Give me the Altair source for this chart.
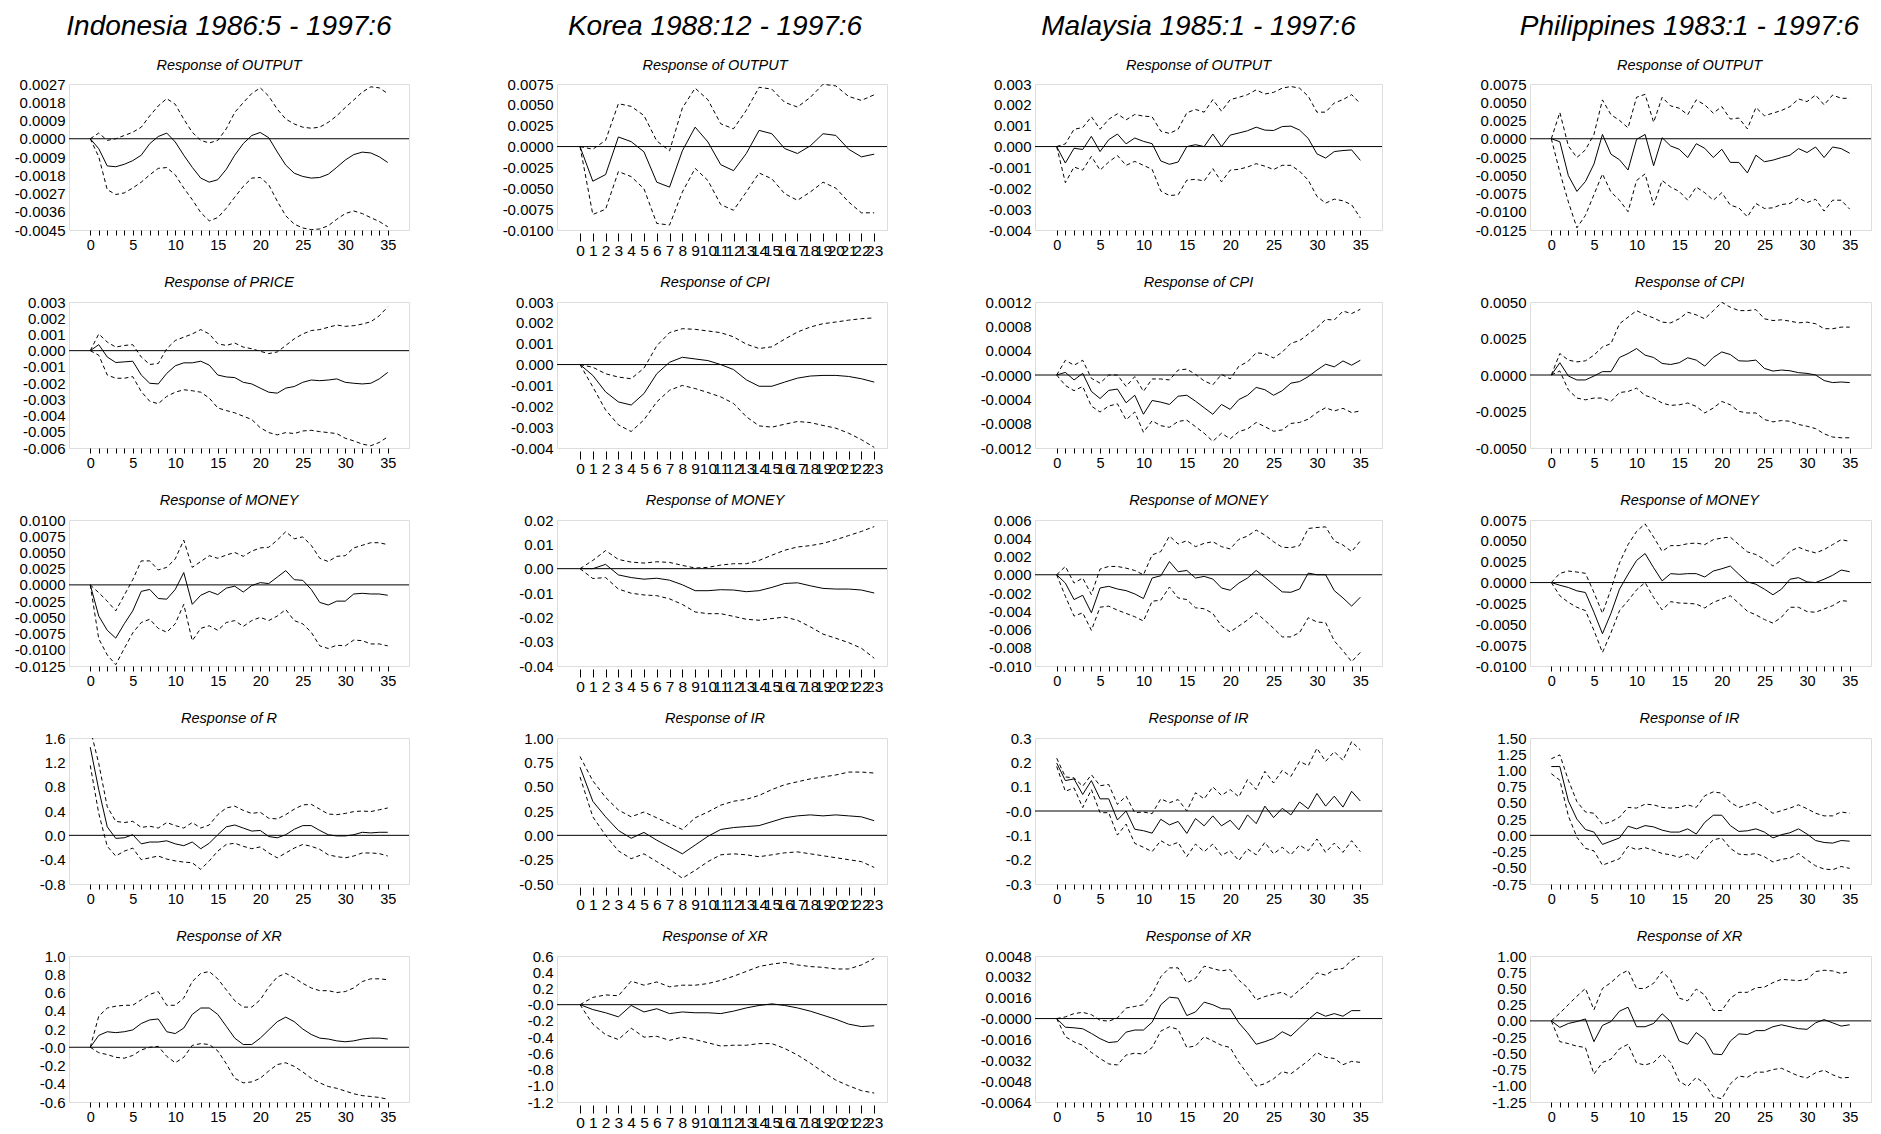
import altair as alt
import pandas as pd

# ---------------- data ----------------
# Indonesia, values in units of SCALE given in PANELS
IDN_OUTPUT_IRF = [0, -4.9, -13.4, -13.8, -12.6, -10.8, -8.1, -2.4, 1.1, 2.8, -1.6, -8.1, -14.1, -19.4, -21.4, -20.2, -15.1, -8.1, -2.4, 1.6, 3.1, 0.5, -6.5, -13.0, -17.0, -18.6, -19.4, -19.1, -17.5, -14.1, -10.5, -7.8, -6.6, -7.0, -8.9, -11.7]
IDN_OUTPUT_UP = [0, 2.8, -0.8, 0, 1.6, 3.2, 5.7, 11.3, 16.2, 19.8, 17.0, 9.7, 3.2, -0.8, -2.1, -0.8, 4.9, 13.0, 17.8, 22.3, 25.1, 21.0, 14.6, 9.7, 7.3, 5.7, 5.2, 5.7, 8.1, 11.3, 15.4, 19.1, 23.0, 25.6, 25.1, 22.3]
IDN_OUTPUT_LO = [0, -8.9, -25.1, -27.5, -26.7, -24.3, -21.4, -17.8, -14.6, -14.2, -17.8, -24.3, -30.0, -36.4, -40.5, -38.9, -34.3, -28.8, -23.5, -19.4, -19.1, -22.7, -30.8, -38.0, -42.1, -44.0, -44.8, -44.5, -42.9, -39.7, -36.9, -35.6, -36.9, -38.9, -40.8, -43.4]

IDN_PRICE_IRF = [0, 0.37, -0.39, -0.73, -0.69, -0.65, -1.50, -2.01, -2.05, -1.40, -0.93, -0.75, -0.75, -0.65, -0.89, -1.50, -1.62, -1.66, -1.95, -2.05, -2.31, -2.56, -2.62, -2.31, -2.21, -1.95, -1.81, -1.85, -1.81, -1.74, -1.95, -2.01, -2.05, -2.01, -1.74, -1.34]
IDN_PRICE_UP = [0, 1.03, 0.53, 0.22, 0.32, 0.37, -0.39, -0.85, -0.79, 0.12, 0.63, 0.83, 1.03, 1.30, 1.03, 0.43, 0.32, 0.47, 0.22, 0.12, -0.04, -0.18, -0.08, 0.32, 0.73, 1.03, 1.24, 1.30, 1.44, 1.58, 1.50, 1.54, 1.64, 1.78, 2.15, 2.70]
IDN_PRICE_LO = [0, -0.28, -1.50, -1.70, -1.70, -1.60, -2.52, -3.12, -3.27, -2.82, -2.56, -2.41, -2.47, -2.56, -2.92, -3.53, -3.69, -3.83, -4.04, -4.24, -4.75, -5.05, -5.19, -5.05, -5.11, -4.95, -4.91, -4.99, -5.05, -5.11, -5.40, -5.56, -5.76, -5.86, -5.66, -5.31]

IDN_MONEY_IRF = [0, -4.8, -7.0, -8.2, -6.0, -4.0, -1.0, -0.7, -2.1, -2.2, -0.7, 1.9, -3.0, -1.6, -1.0, -1.5, -0.5, -0.2, -1.1, -0.1, 0.35, 0.2, 1.2, 2.2, 0.8, 0.7, -0.7, -2.7, -3.1, -2.5, -2.5, -1.4, -1.3, -1.4, -1.4, -1.6]
IDN_MONEY_UP = [0, -1.2, -2.5, -4.0, -1.6, 0.8, 3.7, 3.7, 2.3, 2.7, 4.0, 6.9, 2.7, 3.6, 4.5, 4.1, 4.6, 5.0, 4.4, 5.2, 5.7, 5.8, 6.9, 8.2, 7.1, 7.4, 6.1, 4.1, 3.6, 4.4, 4.5, 5.7, 6.1, 6.5, 6.5, 6.2]
IDN_MONEY_LO = [0, -8.3, -10.8, -12.3, -9.8, -7.4, -5.8, -5.3, -6.7, -7.3, -6.0, -3.0, -8.6, -6.7, -6.3, -7.0, -5.8, -5.5, -6.4, -5.5, -5.0, -5.5, -4.8, -3.8, -5.5, -6.0, -7.3, -9.4, -9.8, -9.3, -9.4, -8.5, -8.6, -9.1, -9.1, -9.4]

IDN_R_IRF = [1.45, 0.75, 0.14, -0.05, -0.04, 0.01, -0.14, -0.11, -0.11, -0.09, -0.14, -0.17, -0.11, -0.22, -0.13, 0.01, 0.14, 0.17, 0.12, 0.07, 0.08, -0.02, -0.04, 0.01, 0.10, 0.16, 0.16, 0.08, 0.01, -0.01, -0.01, 0.01, 0.05, 0.04, 0.05, 0.05]
IDN_R_UP = [1.75, 1.18, 0.47, 0.23, 0.21, 0.23, 0.13, 0.15, 0.12, 0.21, 0.16, 0.12, 0.21, 0.12, 0.17, 0.34, 0.45, 0.48, 0.41, 0.36, 0.38, 0.28, 0.27, 0.34, 0.43, 0.50, 0.51, 0.43, 0.35, 0.34, 0.36, 0.39, 0.40, 0.39, 0.42, 0.45]
IDN_R_LO = [1.15, 0.36, -0.18, -0.34, -0.26, -0.21, -0.40, -0.37, -0.34, -0.39, -0.42, -0.44, -0.45, -0.56, -0.42, -0.26, -0.15, -0.13, -0.18, -0.22, -0.19, -0.29, -0.37, -0.29, -0.21, -0.15, -0.18, -0.23, -0.32, -0.35, -0.37, -0.34, -0.29, -0.29, -0.30, -0.34]

IDN_XR_IRF = [0, 0.13, 0.17, 0.16, 0.17, 0.19, 0.26, 0.30, 0.31, 0.17, 0.15, 0.21, 0.36, 0.43, 0.43, 0.36, 0.23, 0.10, 0.03, 0.03, 0.10, 0.19, 0.28, 0.33, 0.28, 0.20, 0.14, 0.10, 0.09, 0.07, 0.06, 0.07, 0.09, 0.10, 0.10, 0.09]
IDN_XR_UP = [0, 0.34, 0.43, 0.45, 0.46, 0.46, 0.52, 0.58, 0.61, 0.46, 0.46, 0.54, 0.72, 0.81, 0.83, 0.75, 0.63, 0.51, 0.44, 0.44, 0.52, 0.66, 0.77, 0.81, 0.76, 0.70, 0.65, 0.62, 0.62, 0.60, 0.61, 0.65, 0.72, 0.75, 0.75, 0.74]
IDN_XR_LO = [0, -0.06, -0.08, -0.11, -0.12, -0.09, -0.03, 0.00, 0.01, -0.10, -0.17, -0.11, 0.02, 0.04, 0.03, -0.04, -0.18, -0.34, -0.39, -0.38, -0.34, -0.26, -0.19, -0.17, -0.21, -0.27, -0.34, -0.39, -0.43, -0.45, -0.48, -0.51, -0.53, -0.54, -0.55, -0.57]

# Korea (24 periods)
KOR_OUTPUT_IRF = [0, -4.15, -3.36, 1.15, 0.59, -0.63, -4.27, -4.86, -0.51, 2.33, 0.55, -2.17, -2.89, -0.83, 1.94, 1.54, -0.24, -0.83, 0.08, 1.54, 1.34, -0.32, -1.23, -0.91]
KOR_OUTPUT_UP = [0, -0.32, 0.75, 5.14, 4.82, 3.72, 0.67, -0.51, 4.62, 7.0, 5.61, 2.73, 2.13, 4.35, 7.11, 6.88, 5.30, 4.74, 5.89, 7.47, 7.27, 6.01, 5.53, 6.21]
KOR_OUTPUT_LO = [0, -8.14, -7.51, -3.0, -3.6, -5.06, -9.21, -9.41, -5.45, -2.61, -4.07, -6.96, -7.63, -5.45, -3.16, -3.87, -5.65, -6.44, -5.45, -4.27, -4.98, -6.64, -7.94, -7.94]

KOR_CPI_IRF = [0, -0.52, -1.31, -1.79, -1.94, -1.39, -0.44, 0.11, 0.35, 0.27, 0.19, 0, -0.24, -0.73, -1.04, -1.04, -0.84, -0.65, -0.55, -0.52, -0.52, -0.57, -0.68, -0.84]
KOR_CPI_UP = [0, -0.13, -0.44, -0.60, -0.68, -0.17, 0.90, 1.53, 1.72, 1.69, 1.61, 1.53, 1.33, 0.98, 0.77, 0.85, 1.22, 1.56, 1.80, 1.96, 2.04, 2.13, 2.20, 2.24]
KOR_CPI_LO = [0, -1.07, -2.18, -2.89, -3.21, -2.65, -1.79, -1.23, -1.0, -1.15, -1.34, -1.55, -1.86, -2.50, -2.94, -3.0, -2.86, -2.73, -2.78, -2.92, -3.05, -3.29, -3.60, -3.97]

KOR_MONEY_IRF = [0, 0, 1.76, -2.57, -3.65, -4.32, -3.92, -4.73, -6.62, -9.05, -9.05, -8.65, -8.78, -9.46, -9.05, -7.70, -6.08, -5.81, -7.03, -8.11, -8.38, -8.38, -8.78, -10.0]
KOR_MONEY_UP = [0, 3.38, 7.43, 3.78, 2.70, 2.30, 2.84, 2.57, 1.35, 0.27, 0.54, 1.49, 2.03, 2.03, 3.38, 5.54, 7.57, 8.92, 9.46, 10.4, 11.9, 13.6, 15.3, 17.3]
KOR_MONEY_LO = [0, -4.05, -3.65, -8.38, -10.1, -10.8, -11.1, -12.4, -14.7, -17.8, -18.5, -18.5, -19.6, -20.8, -21.2, -20.5, -19.9, -21.2, -23.9, -26.9, -28.6, -30.4, -32.7, -36.8]

KOR_IR_IRF = [0.70, 0.35, 0.19, 0.05, -0.03, 0.03, -0.05, -0.12, -0.19, -0.10, -0.01, 0.06, 0.08, 0.09, 0.10, 0.14, 0.18, 0.20, 0.21, 0.20, 0.21, 0.20, 0.19, 0.15]
KOR_IR_UP = [0.81, 0.56, 0.39, 0.26, 0.19, 0.24, 0.18, 0.12, 0.06, 0.18, 0.24, 0.31, 0.35, 0.37, 0.41, 0.47, 0.52, 0.55, 0.58, 0.60, 0.62, 0.65, 0.65, 0.64]
KOR_IR_LO = [0.60, 0.19, 0.00, -0.16, -0.24, -0.19, -0.27, -0.35, -0.44, -0.36, -0.27, -0.20, -0.19, -0.20, -0.22, -0.20, -0.18, -0.17, -0.19, -0.21, -0.23, -0.25, -0.27, -0.33]

KOR_XR_IRF = [0, -0.06, -0.10, -0.15, -0.01, -0.09, -0.05, -0.11, -0.09, -0.10, -0.10, -0.11, -0.08, -0.04, -0.01, 0.01, -0.01, -0.04, -0.08, -0.13, -0.18, -0.24, -0.27, -0.26]
KOR_XR_UP = [0, 0.09, 0.12, 0.11, 0.29, 0.24, 0.28, 0.22, 0.24, 0.24, 0.26, 0.30, 0.35, 0.41, 0.47, 0.50, 0.52, 0.49, 0.47, 0.46, 0.44, 0.44, 0.49, 0.57]
KOR_XR_LO = [0, -0.24, -0.37, -0.43, -0.29, -0.40, -0.39, -0.44, -0.40, -0.43, -0.47, -0.51, -0.50, -0.50, -0.48, -0.48, -0.54, -0.62, -0.72, -0.83, -0.93, -1.00, -1.06, -1.09]

# Malaysia
MYS_OUTPUT_IRF = [0, -0.79, -0.08, -0.14, 0.49, -0.24, 0.33, 0.60, 0.13, 0.41, 0.25, 0.14, -0.69, -0.85, -0.74, 0, 0.09, 0, 0.60, 0, 0.55, 0.65, 0.76, 0.93, 0.79, 0.77, 0.96, 0.98, 0.79, 0.39, -0.35, -0.55, -0.24, -0.19, -0.16, -0.66]
MYS_OUTPUT_UP = [0, 0.13, 0.83, 0.91, 1.43, 0.83, 1.31, 1.57, 1.28, 1.54, 1.46, 1.43, 0.74, 0.63, 0.83, 1.62, 1.78, 1.65, 2.25, 1.70, 2.25, 2.36, 2.49, 2.72, 2.52, 2.60, 2.80, 2.88, 2.80, 2.41, 1.65, 1.65, 2.09, 2.25, 2.49, 2.06]
MYS_OUTPUT_LO = [0, -1.73, -0.98, -1.13, -0.47, -1.13, -0.74, -0.43, -0.90, -0.71, -0.90, -1.09, -2.13, -2.35, -2.31, -1.61, -1.57, -1.65, -1.06, -1.69, -1.13, -1.09, -0.98, -0.82, -0.94, -1.10, -0.90, -0.90, -1.18, -1.61, -2.39, -2.71, -2.52, -2.60, -2.79, -3.42]

MYS_CPI_IRF = [0, 0.43, -0.81, 0.27, -2.69, -3.87, -2.53, -2.31, -4.57, -3.33, -6.45, -4.19, -4.46, -4.84, -3.49, -3.33, -4.30, -5.38, -6.45, -4.84, -5.65, -4.03, -3.33, -2.04, -2.42, -3.33, -2.58, -1.34, -1.08, -0.27, 0.81, 1.77, 1.34, 2.31, 1.61, 2.42]
MYS_CPI_UP = [0, 2.42, 1.61, 2.42, -0.54, -1.34, 0, 0, -1.88, -0.27, -2.69, -0.65, -0.65, -0.81, 0.81, 0.97, 0.11, -0.97, -1.61, 0.11, -0.65, 1.45, 2.15, 3.66, 3.49, 2.80, 3.76, 5.22, 5.65, 6.72, 7.80, 9.14, 9.03, 10.5, 10.1, 10.8]
MYS_CPI_LO = [0, -1.72, -2.58, -1.88, -5.11, -6.08, -5.11, -4.73, -7.37, -6.08, -9.41, -7.53, -8.33, -8.60, -7.63, -7.42, -8.49, -9.57, -10.9, -9.57, -10.5, -9.30, -8.87, -7.80, -8.49, -9.25, -9.03, -7.96, -7.80, -7.26, -6.18, -5.38, -5.91, -5.48, -6.18, -5.91]

MYS_MONEY_IRF = [0, -0.91, -2.72, -2.25, -4.17, -1.45, -1.27, -1.56, -1.74, -2.10, -2.61, -0.36, -0.11, 1.45, 0.33, 0.47, -0.36, -0.18, -0.47, -1.45, -1.70, -0.91, -0.36, 0.47, -0.29, -1.09, -1.88, -1.92, -1.56, 0.18, 0, 0, -1.74, -2.54, -3.44, -2.46]
MYS_MONEY_UP = [0, 0.91, -0.91, -0.36, -2.17, 0.62, 0.91, 0.91, 0.72, 0.47, 0, 2.17, 2.54, 4.24, 3.37, 3.73, 3.08, 3.44, 3.62, 3.08, 2.83, 3.88, 4.24, 4.89, 4.35, 3.62, 3.01, 2.97, 3.19, 5.07, 5.18, 5.25, 3.70, 3.26, 2.54, 3.70]
MYS_MONEY_LO = [0, -2.36, -4.53, -4.17, -6.09, -3.55, -3.44, -3.88, -4.24, -4.60, -5.07, -2.90, -2.79, -1.34, -2.54, -2.72, -3.62, -3.73, -4.24, -5.62, -6.27, -5.62, -4.96, -4.17, -5.00, -5.87, -6.81, -6.81, -6.34, -4.71, -5.18, -5.25, -7.25, -8.33, -9.53, -8.51]

MYS_IR_IRF = [0.197, 0.125, 0.132, 0.068, 0.125, 0.050, 0.050, -0.037, 0, -0.075, -0.081, -0.091, -0.034, -0.057, -0.043, -0.092, -0.031, -0.061, -0.020, -0.061, -0.038, -0.077, -0.016, -0.052, 0.020, -0.027, 0.011, -0.016, 0.037, 0.009, 0.072, 0.020, 0.061, 0.016, 0.081, 0.041]
MYS_IR_UP = [0.217, 0.140, 0.136, 0.102, 0.149, 0.104, 0.109, 0.027, 0.061, -0.007, -0.004, -0.011, 0.050, 0.034, 0.047, 0, 0.075, 0.050, 0.099, 0.064, 0.088, 0.058, 0.129, 0.088, 0.163, 0.115, 0.167, 0.142, 0.204, 0.186, 0.258, 0.204, 0.244, 0.208, 0.285, 0.251]
MYS_IR_LO = [0.183, 0.081, 0.095, 0.014, 0.088, -0.007, -0.007, -0.099, -0.054, -0.133, -0.149, -0.167, -0.122, -0.142, -0.129, -0.187, -0.136, -0.167, -0.136, -0.183, -0.163, -0.204, -0.156, -0.180, -0.129, -0.176, -0.149, -0.180, -0.140, -0.163, -0.115, -0.170, -0.132, -0.170, -0.122, -0.167]

MYS_XR_IRF = [0, -0.66, -0.71, -0.78, -1.14, -1.54, -1.84, -1.77, -1.04, -0.88, -0.88, -0.28, 1.06, 1.64, 1.57, 0.23, 0.51, 1.26, 1.06, 0.76, 0.73, -0.33, -1.09, -1.97, -1.77, -1.52, -1.01, -1.34, -0.71, -0.08, 0.48, 0.18, 0.38, 0.18, 0.61, 0.61]
MYS_XR_UP = [0, 0.13, 0.38, 0.48, 0.30, -0.13, -0.20, 0.05, 0.81, 0.93, 1.06, 1.89, 3.21, 3.89, 3.89, 2.75, 3.08, 4.02, 3.84, 3.66, 3.76, 2.95, 2.37, 1.44, 1.69, 1.87, 2.02, 1.62, 2.20, 2.75, 3.51, 3.33, 3.76, 3.84, 4.47, 4.85]
MYS_XR_LO = [0, -1.39, -1.79, -2.05, -2.60, -3.06, -3.48, -3.56, -2.80, -2.65, -2.73, -2.22, -0.96, -0.63, -0.83, -2.22, -2.10, -1.39, -1.72, -2.05, -2.22, -3.36, -4.24, -5.18, -5.00, -4.62, -4.07, -4.24, -3.74, -3.23, -2.60, -2.98, -3.06, -3.54, -3.28, -3.36]

# Philippines
PHL_OUTPUT_IRF = [0, -0.41, -5.05, -7.21, -5.86, -3.47, 0.59, -2.12, -2.88, -4.28, -0.09, 0.59, -3.69, 0.14, -0.99, -1.44, -2.57, -0.68, -1.31, -2.57, -1.44, -3.24, -3.24, -4.68, -2.25, -3.15, -2.93, -2.57, -2.25, -1.35, -1.89, -1.13, -2.57, -1.13, -1.35, -1.98]
PHL_OUTPUT_UP = [0, 3.60, -0.99, -2.57, -1.53, 0.59, 5.32, 3.29, 2.52, 1.49, 5.68, 6.08, 2.25, 5.68, 4.50, 4.19, 3.29, 5.32, 4.64, 3.51, 4.41, 2.70, 2.84, 1.35, 4.28, 3.15, 3.51, 3.87, 4.41, 5.45, 5.09, 5.99, 4.64, 5.99, 5.54, 5.54]
PHL_OUTPUT_LO = [0, -4.59, -8.65, -12.2, -10.5, -7.66, -4.82, -7.30, -8.42, -10.0, -5.72, -4.82, -9.10, -5.72, -6.62, -7.21, -8.42, -6.62, -7.39, -8.42, -7.39, -9.10, -9.46, -10.7, -8.87, -9.55, -9.46, -9.01, -8.87, -8.11, -8.74, -8.29, -9.91, -8.42, -8.42, -9.64]

PHL_CPI_IRF = [0, 0.84, -0.07, -0.34, -0.34, -0.07, 0.23, 0.23, 1.20, 1.47, 1.81, 1.36, 1.20, 0.79, 0.72, 0.84, 1.18, 1.02, 0.61, 1.20, 1.58, 1.40, 0.97, 0.95, 1.02, 0.45, 0.27, 0.34, 0.29, 0.16, 0.11, 0, -0.38, -0.52, -0.48, -0.52]
PHL_CPI_UP = [0, 1.47, 1.02, 0.90, 0.97, 1.36, 1.92, 2.15, 3.51, 3.96, 4.41, 4.12, 3.91, 3.62, 3.57, 3.85, 4.30, 4.12, 3.85, 4.41, 4.98, 4.64, 4.41, 4.41, 4.48, 3.85, 3.73, 3.78, 3.69, 3.57, 3.62, 3.51, 3.17, 3.17, 3.28, 3.28]
PHL_CPI_LO = [0, 0.27, -1.02, -1.58, -1.70, -1.58, -1.58, -1.81, -1.20, -1.13, -0.90, -1.40, -1.58, -1.92, -2.08, -2.04, -1.92, -2.15, -2.60, -2.26, -1.81, -2.04, -2.49, -2.60, -2.60, -3.05, -3.21, -3.12, -3.17, -3.39, -3.51, -3.67, -4.03, -4.25, -4.30, -4.30]

PHL_MONEY_IRF = [0, -0.32, -0.59, -0.99, -1.19, -3.56, -6.13, -3.68, -0.79, 0.99, 2.65, 3.48, 1.78, 0.20, 1.07, 0.99, 1.07, 1.07, 0.67, 1.38, 1.66, 1.98, 0.99, 0.08, -0.20, -0.79, -1.46, -0.79, 0.40, 0.59, 0.08, 0, 0.40, 0.87, 1.50, 1.30]
PHL_MONEY_UP = [0, 1.11, 1.38, 1.26, 1.11, -1.19, -3.68, -0.79, 2.37, 4.55, 6.13, 7.04, 5.45, 3.75, 4.43, 4.43, 4.66, 4.74, 4.55, 5.14, 5.34, 5.45, 4.55, 3.68, 3.36, 2.77, 1.98, 2.69, 3.75, 4.23, 3.83, 3.56, 3.95, 4.55, 5.14, 4.94]
PHL_MONEY_LO = [0, -1.58, -2.37, -2.96, -3.36, -5.73, -8.38, -6.01, -3.36, -2.17, -0.87, 0, -1.78, -3.28, -2.29, -2.45, -2.49, -2.57, -3.04, -2.37, -1.98, -1.58, -2.49, -3.44, -3.87, -4.43, -4.86, -4.15, -2.96, -2.96, -3.48, -3.56, -3.16, -2.77, -2.17, -2.25]

PHL_IR_IRF = [1.06, 1.06, 0.53, 0.25, 0.09, 0.05, -0.14, -0.09, -0.04, 0.14, 0.10, 0.15, 0.13, 0.08, 0.05, 0.05, 0.10, 0.02, 0.20, 0.31, 0.31, 0.15, 0.06, 0.07, 0.10, 0.05, -0.04, 0.01, 0.04, 0.10, 0.02, -0.08, -0.11, -0.12, -0.08, -0.09]
PHL_IR_UP = [1.18, 1.24, 0.85, 0.52, 0.36, 0.34, 0.17, 0.21, 0.28, 0.43, 0.42, 0.48, 0.47, 0.43, 0.42, 0.43, 0.47, 0.43, 0.61, 0.67, 0.65, 0.51, 0.43, 0.47, 0.51, 0.43, 0.34, 0.38, 0.42, 0.47, 0.41, 0.34, 0.30, 0.30, 0.36, 0.34]
PHL_IR_LO = [0.95, 0.85, 0.30, -0.03, -0.20, -0.24, -0.46, -0.41, -0.36, -0.17, -0.22, -0.19, -0.23, -0.28, -0.30, -0.34, -0.29, -0.38, -0.20, -0.07, -0.04, -0.20, -0.29, -0.30, -0.28, -0.33, -0.41, -0.37, -0.35, -0.28, -0.38, -0.47, -0.52, -0.53, -0.48, -0.51]

PHL_XR_IRF = [0, -0.10, -0.04, -0.01, 0.03, -0.32, -0.07, -0.01, 0.15, 0.21, -0.09, -0.09, -0.04, 0.11, -0.01, -0.31, -0.36, -0.18, -0.28, -0.51, -0.52, -0.31, -0.20, -0.21, -0.15, -0.15, -0.09, -0.06, -0.09, -0.12, -0.13, -0.03, 0.02, -0.03, -0.08, -0.06]
PHL_XR_UP = [0, 0.12, 0.25, 0.38, 0.50, 0.17, 0.50, 0.59, 0.71, 0.78, 0.50, 0.50, 0.58, 0.76, 0.63, 0.35, 0.31, 0.49, 0.40, 0.16, 0.16, 0.35, 0.44, 0.44, 0.51, 0.52, 0.59, 0.64, 0.63, 0.62, 0.64, 0.76, 0.78, 0.77, 0.73, 0.76]
PHL_XR_LO = [0, -0.32, -0.35, -0.39, -0.41, -0.82, -0.64, -0.59, -0.43, -0.36, -0.65, -0.68, -0.64, -0.51, -0.64, -0.93, -1.01, -0.87, -0.97, -1.17, -1.20, -0.97, -0.85, -0.87, -0.79, -0.79, -0.75, -0.73, -0.79, -0.85, -0.88, -0.80, -0.76, -0.83, -0.88, -0.87]

COUNTRY_TITLES = ["Indonesia 1986:5 - 1997:6", "Korea 1988:12 - 1997:6",
                  "Malaysia 1985:1 - 1997:6", "Philippines 1983:1 - 1997:6"]

# (variable label, scale, irf, upper, lower, y-min, y-max, tick step, format, zero label)
PANELS = {
    0: [("OUTPUT", 1e-4, IDN_OUTPUT_IRF, IDN_OUTPUT_UP, IDN_OUTPUT_LO, -45, 27, 9, ".4f", "0.0000"),
        ("PRICE", 1e-3, IDN_PRICE_IRF, IDN_PRICE_UP, IDN_PRICE_LO, -6, 3, 1, ".3f", "0.000"),
        ("MONEY", 1e-3, IDN_MONEY_IRF, IDN_MONEY_UP, IDN_MONEY_LO, -12.5, 10, 2.5, ".4f", "0.0000"),
        ("R", 1, IDN_R_IRF, IDN_R_UP, IDN_R_LO, -0.8, 1.6, 0.4, ".1f", "0.0"),
        ("XR", 1, IDN_XR_IRF, IDN_XR_UP, IDN_XR_LO, -0.6, 1.0, 0.2, ".1f", "-0.0")],
    1: [("OUTPUT", 1e-3, KOR_OUTPUT_IRF, KOR_OUTPUT_UP, KOR_OUTPUT_LO, -10, 7.5, 2.5, ".4f", "0.0000"),
        ("CPI", 1e-3, KOR_CPI_IRF, KOR_CPI_UP, KOR_CPI_LO, -4, 3, 1, ".3f", "0.000"),
        ("MONEY", 1e-3, KOR_MONEY_IRF, KOR_MONEY_UP, KOR_MONEY_LO, -40, 20, 10, ".2f", "0.00"),
        ("IR", 1, KOR_IR_IRF, KOR_IR_UP, KOR_IR_LO, -0.5, 1.0, 0.25, ".2f", "0.00"),
        ("XR", 1, KOR_XR_IRF, KOR_XR_UP, KOR_XR_LO, -1.2, 0.6, 0.2, ".1f", "-0.0")],
    2: [("OUTPUT", 1e-3, MYS_OUTPUT_IRF, MYS_OUTPUT_UP, MYS_OUTPUT_LO, -4, 3, 1, ".3f", "0.000"),
        ("CPI", 1e-4, MYS_CPI_IRF, MYS_CPI_UP, MYS_CPI_LO, -12, 12, 4, ".4f", "-0.0000"),
        ("MONEY", 1e-3, MYS_MONEY_IRF, MYS_MONEY_UP, MYS_MONEY_LO, -10, 6, 2, ".3f", "0.000"),
        ("IR", 1, MYS_IR_IRF, MYS_IR_UP, MYS_IR_LO, -0.3, 0.3, 0.1, ".1f", "-0.0"),
        ("XR", 1e-3, MYS_XR_IRF, MYS_XR_UP, MYS_XR_LO, -6.4, 4.8, 1.6, ".4f", "-0.0000")],
    3: [("OUTPUT", 1e-3, PHL_OUTPUT_IRF, PHL_OUTPUT_UP, PHL_OUTPUT_LO, -12.5, 7.5, 2.5, ".4f", "0.0000"),
        ("CPI", 1e-3, PHL_CPI_IRF, PHL_CPI_UP, PHL_CPI_LO, -5, 5, 2.5, ".4f", "0.0000"),
        ("MONEY", 1e-3, PHL_MONEY_IRF, PHL_MONEY_UP, PHL_MONEY_LO, -10, 7.5, 2.5, ".4f", "0.0000"),
        ("IR", 1, PHL_IR_IRF, PHL_IR_UP, PHL_IR_LO, -0.75, 1.5, 0.25, ".2f", "0.00"),
        ("XR", 1, PHL_XR_IRF, PHL_XR_UP, PHL_XR_LO, -1.25, 1.0, 0.25, ".2f", "0.00")],
}

# ---------------- layout ----------------
FONT = "Liberation Sans"
PLOT_W = [340, 330, 347, 341]
PLOT_H = 146
ROW_SPACING = 72
COL_SPACING = 148
X_DOMAIN = {36: [-2.5, 37.5], 24: [-1.8, 24.0]}
TITLE_DX = [-10, -7, -10, -11]


def make_panel(col, row, spec):
    var, scale, irf, up, lo, ymin, ymax, step, fmt, zero_lbl = spec
    n = len(irf)
    df = pd.DataFrame({
        "t": list(range(n)) * 3,
        "v": [x * scale for x in irf + up + lo],
        "s": ["irf"] * n + ["up"] * n + ["lo"] * n,
    })
    nsteps = int(round((ymax - ymin) / step))
    ticks = [round((ymin + k * step) * scale, 10) for k in range(nsteps + 1)]
    ydom = [ymin * scale, ymax * scale]

    label_expr = ("abs(datum.value) < 1e-12 ? '%s' : replace(format(datum.value, '%s'), '\u2212', '-')"
                  % (zero_lbl, fmt))
    yaxis = alt.Axis(values=ticks, labelExpr=label_expr, ticks=False, domain=False, grid=False,
                     labelFontSize=15, labelPadding=4, labelFont=FONT, labelColor="black",
                     title=None, labelOverlap=False)
    if n == 24:
        xaxis = alt.Axis(values=list(range(24)), labelFontSize=15.5, labelFont=FONT, labelColor="black",
                         tickSize=8, tickColor="black", offset=3, domain=False, grid=False,
                         labelOverlap=False, labelFlush=False, labelPadding=2, title=None)
    else:
        xaxis = alt.Axis(values=list(range(36)),
                         labelExpr="datum.value % 5 == 0 ? datum.label : ''",
                         labelFontSize=14.5, labelFont=FONT, labelColor="black",
                         tickSize=5, tickColor="black", domain=False, grid=False,
                         labelOverlap=False, labelFlush=False, labelPadding=3, title=None)

    xscale = alt.Scale(domain=X_DOMAIN[n], nice=False, zero=False)
    yscale = alt.Scale(domain=ydom, nice=False, zero=False)
    x = alt.X("t:Q", scale=xscale, axis=xaxis)
    y = alt.Y("v:Q", scale=yscale, axis=yaxis)

    base = alt.Chart(df)
    solid = base.transform_filter("datum.s == 'irf'").mark_line(
        color="black", strokeWidth=1, clip=True).encode(x=x, y=y)
    dashed = base.transform_filter("datum.s != 'irf'").mark_line(
        color="black", strokeWidth=1, strokeDash=[4, 3], clip=True).encode(x=x, y=y, detail="s:N")
    zero = base.transform_filter("datum.s == 'irf' && datum.t == 0").transform_calculate(
        z="0").mark_rule(color="black", strokeWidth=1).encode(y=alt.Y("z:Q", scale=yscale, axis=yaxis))

    if row == 0:
        title = alt.TitleParams(
            text=COUNTRY_TITLES[col], subtitle="Response of " + var,
            font=FONT, fontSize=28, fontStyle="italic", fontWeight="normal", color="black",
            subtitleFont=FONT, subtitleFontSize=14.5, subtitleFontStyle="italic",
            subtitleColor="black", subtitlePadding=18, offset=5, anchor="middle",
            dx=TITLE_DX[col])
    else:
        title = alt.TitleParams(
            text="Response of " + var, font=FONT, fontSize=14.5, fontStyle="italic",
            fontWeight="normal", color="black", offset=5, anchor="middle", dx=TITLE_DX[col])

    return alt.layer(solid, dashed, zero).properties(
        width=PLOT_W[col], height=PLOT_H, title=title)


cells = []
for row in range(5):
    for col in range(4):
        cells.append(make_panel(col, row, PANELS[col][row]))

chart = alt.concat(*cells, columns=4, bounds="flush",
                   spacing={"row": ROW_SPACING, "column": COL_SPACING}).properties(
    padding={"left": 5, "top": 4, "right": 0, "bottom": 0}
).configure_view(stroke="black", strokeWidth=1).configure(background="white")

chart.save("out.html", embed_options={"renderer": "svg", "actions": False})
